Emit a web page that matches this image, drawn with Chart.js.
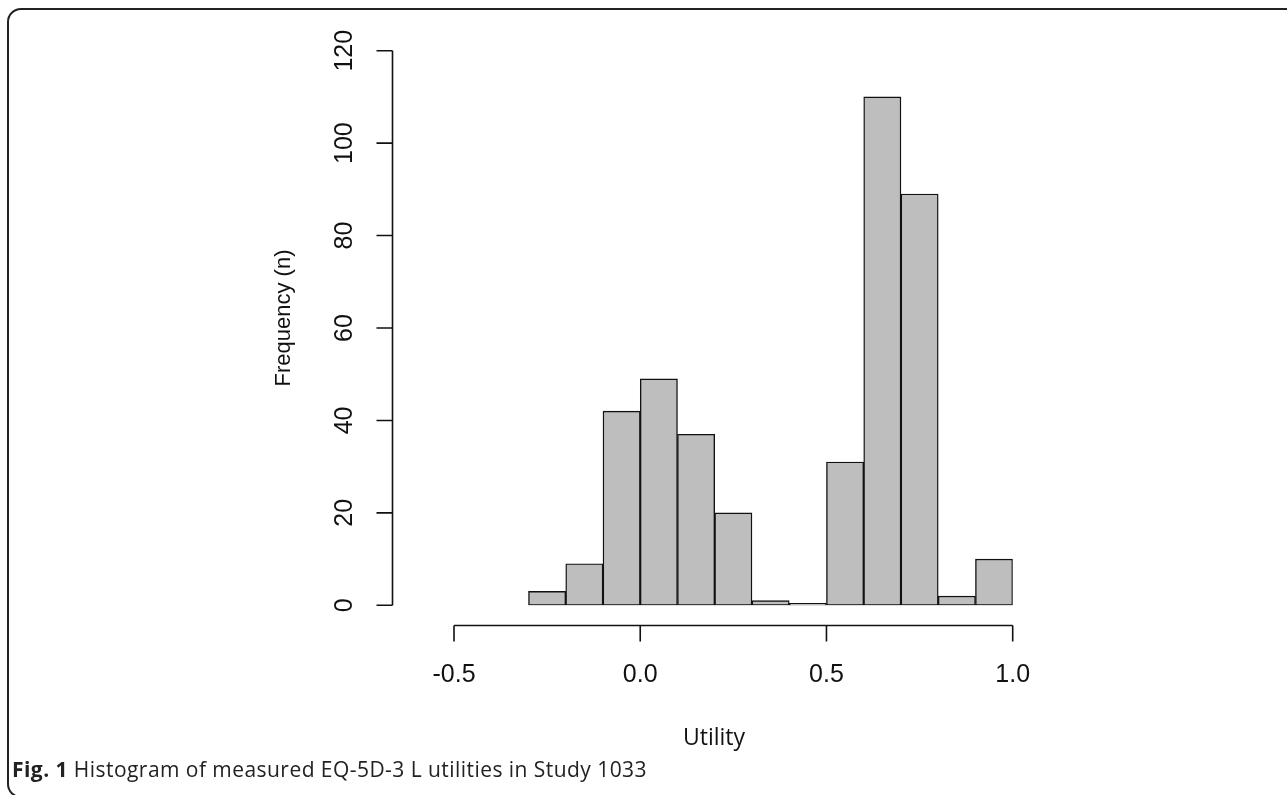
<!DOCTYPE html>
<html>
<head>
<meta charset="utf-8">
<script src="https://cdn.jsdelivr.net/npm/chart.js@4"></script>
<style>
  html, body { margin: 0; padding: 0; background: #fff; overflow: hidden; }
  #frame {
    position: absolute; left: 7px; top: 8px; width: 1320px; height: 790px;
    border: 2px solid #222; border-radius: 14px; box-sizing: border-box;
  }
  #caption {
    position: absolute; left: 12px; top: 755px; letter-spacing: 0.45px;
    font-family: "Open Sans", sans-serif; font-size: 21px; color: #222;
  }
  #caption b { font-weight: 700; }
  canvas { position: absolute; left: 0; top: 0; }
</style>
</head>
<body>
<div id="frame"></div>
<canvas id="hist" width="1287" height="795"></canvas>
<div id="caption"><b>Fig. 1</b> Histogram of measured EQ-5D-3 L utilities in Study 1033</div>
<script>
// bins of width 0.1, from -0.3 to 1.0 (bar centres)
const binCentres = [-0.25, -0.15, -0.05, 0.05, 0.15, 0.25, 0.35, 0.45, 0.55, 0.65, 0.75, 0.85, 0.95];
const frequencies = [3, 9, 42, 49, 37, 20, 1, 0, 31, 110, 89, 2, 10];
const xTicks = [-0.5, 0.0, 0.5, 1.0];
const yTicks = [0, 20, 40, 60, 80, 100, 120];

// R-style axes drawn off the plot area, using the chart's own scales
const rAxes = {
  id: "rAxes",
  afterDraw(chart) {
    const c = chart.ctx;
    const xs = chart.scales.x;
    const ys = chart.scales.y;
    c.save();
    c.strokeStyle = "#111";
    c.fillStyle = "#111";
    c.lineWidth = 1.6;

    // y axis
    const axX = 392.5;
    c.beginPath();
    c.moveTo(axX, ys.getPixelForValue(yTicks[0]));
    c.lineTo(axX, ys.getPixelForValue(yTicks[yTicks.length - 1]));
    yTicks.forEach(t => {
      const py = ys.getPixelForValue(t);
      c.moveTo(axX, py);
      c.lineTo(axX - 16, py);
    });
    c.stroke();
    c.font = "25px 'Liberation Sans', Arial, sans-serif";
    c.textAlign = "center";
    c.textBaseline = "middle";
    yTicks.forEach(t => {
      c.save();
      c.translate(345, ys.getPixelForValue(t));
      c.rotate(-Math.PI / 2);
      c.fillText(String(t), 0, 0);
      c.restore();
    });

    // x axis
    const axY = 625.5;
    c.beginPath();
    c.moveTo(xs.getPixelForValue(xTicks[0]), axY);
    c.lineTo(xs.getPixelForValue(xTicks[xTicks.length - 1]), axY);
    xTicks.forEach(t => {
      const px = xs.getPixelForValue(t);
      c.moveTo(px, axY);
      c.lineTo(px, axY + 16);
    });
    c.stroke();
    xTicks.forEach(t => {
      c.fillText(t.toFixed(1), xs.getPixelForValue(t), 675);
    });

    // axis titles
    c.save();
    c.translate(284, 318);
    c.rotate(-Math.PI / 2);
    c.font = "22px 'Liberation Sans', Arial, sans-serif";
    c.fillText("Frequency (n)", 0, 0);
    c.restore();
    c.font = "23px 'Open Sans', sans-serif";
    c.fillText("Utility", 714, 738);
    c.restore();
  }
};

const ctx = document.getElementById("hist").getContext("2d");

new Chart(ctx, {
  type: "bar",
  data: {
    datasets: [
      {
        data: binCentres.map((x, i) => ({ x: x, y: frequencies[i] })),
        backgroundColor: "#bebebe",
        borderColor: "#111",
        borderWidth: 1.4,
        borderSkipped: false,
        minBarLength: 2,
        barPercentage: 1.0,
        categoryPercentage: 1.0,
      },
    ],
  },
  options: {
    responsive: false,
    devicePixelRatio: 1,
    animation: false,
    layout: {
      padding: { left: 454, right: 274.3, top: 50.7, bottom: 189.7 },
    },
    scales: {
      x: { type: "linear", min: -0.5, max: 1.0, offset: false, display: false },
      y: { type: "linear", min: 0, max: 120, display: false },
    },
    plugins: {
      legend: { display: false },
      tooltip: { enabled: false },
    },
  },
  plugins: [rAxes],
});
</script>
</body>
</html>
